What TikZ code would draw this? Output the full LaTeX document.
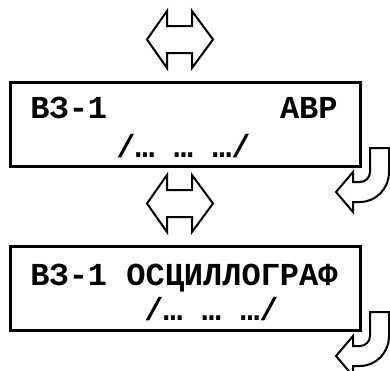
\documentclass[tikz,border=0pt]{standalone}
\usepackage{fontspec}
\setmonofont{Liberation Mono}

\begin{document}
\begin{tikzpicture}[
    x=0.75pt, y=-0.75pt,
    panel/.style={draw, line width=2.25pt, minimum width=262.5pt, minimum height=63pt, inner sep=0pt},
    menutext/.style={inner sep=0pt, anchor=base, font=\ttfamily\bfseries\fontsize{24}{24}\selectfont},
    blockarrow/.style={draw, line width=1.5pt, line join=miter, fill=white}
]
    \useasboundingbox (0,0) rectangle (390,371);

    % --- FIRST SCREEN ---
    \node[panel] (avr) at (185,124) {};
    \node[menutext] (avrtop) at (184,118) {ВЗ-1~~~~~~~~~АВР};
    \node[menutext] (avrbot) at (183.5,157) {/…~…~…/};

    % --- SECOND SCREEN ---
    \node[panel] (osc) at (185,288.5) {};
    \node[menutext] (osctop) at (184,285) {ВЗ-1 ОСЦИЛЛОГРАФ};
    \node[menutext] (oscbot) at (211.5,320) {/…~…~…/};

    % --- Left/right keys and return keys ---
    \foreach \dy in {0,164} {
        \begin{scope}[shift={(0,\dy)}]
            \draw[blockarrow] (147,39.5) -- (167,11) -- (167,26) -- (192,26) -- (192,11)
                -- (213,39.5) -- (192,68) -- (192,53) -- (167,53) -- (167,68) -- cycle;
            \draw[blockarrow] (370,148) -- (389,148) -- (389,172)
                .. controls (389,188.6) and (376,202) .. (360,202) -- (353,202) -- (353,212)
                -- (336,192) -- (353,172) -- (353,182) -- (360,182)
                .. controls (365.5,182) and (370,177.5) .. (370,172) -- cycle;
        \end{scope}
    }
\end{tikzpicture}
\end{document}
